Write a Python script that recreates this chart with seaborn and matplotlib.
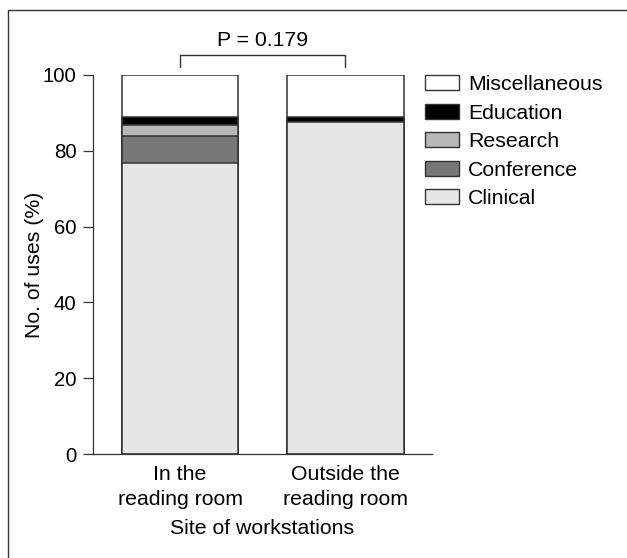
import matplotlib
matplotlib.use("Agg")
import matplotlib.pyplot as plt
import seaborn as sns
import pandas as pd
import numpy as np
from matplotlib.patches import Patch
from matplotlib.lines import Line2D

categories = ["In the\nreading room", "Outside the\nreading room"]
clinical = [76.7, 87.6]
conference = [7.2, 0.0]
research = [2.8, 0.0]
education = [2.1, 1.2]
miscellaneous = [11.2, 11.2]
p_text = "P = 0.179"

series_names = ["Clinical", "Conference", "Research", "Education", "Miscellaneous"]
series_vals = [clinical, conference, research, education, miscellaneous]
colors = {"Clinical": "#e6e6e6", "Conference": "#777777", "Research": "#b8b8b8",
          "Education": "#000000", "Miscellaneous": "#ffffff"}

sns.set_theme(style="ticks")
plt.rcParams['font.family'] = ['Liberation Sans', 'DejaVu Sans']
plt.rcParams['text.color'] = 'black'
plt.rcParams['axes.labelcolor'] = 'black'
plt.rcParams['xtick.color'] = 'black'
plt.rcParams['ytick.color'] = 'black'

FS = 15.3
fig = plt.figure(figsize=(6.27, 5.58), dpi=100)
ax = fig.add_axes([93/627, 1-454/558, (432-93)/627, (454-75)/558])

cum = np.cumsum(np.array(series_vals), axis=0)
edge = "#333333"
for i in range(len(series_names) - 1, -1, -1):
    df = pd.DataFrame({"site": categories, "value": cum[i]})
    sns.barplot(data=df, x="site", y="value", color=colors[series_names[i]],
                width=0.705, edgecolor=edge, linewidth=1.1, saturation=1, ax=ax)

ax.set_ylim(0, 100)
ax.set_xlim(-0.527, 1.525)
ax.set_yticks([0, 20, 40, 60, 80, 100])
ax.tick_params(axis="y", length=7, width=0.9, color="#333333", labelsize=14.7, pad=5)
ax.tick_params(axis="x", length=0, labelsize=FS, pad=8)
for s in ["top", "right"]:
    ax.spines[s].set_visible(False)
for s in ["left", "bottom"]:
    ax.spines[s].set_color("#333333")
    ax.spines[s].set_linewidth(0.9)
ax.set_ylabel("No. of uses (%)", fontsize=FS, labelpad=-1)
ax.set_xlabel("Site of workstations", fontsize=FS, labelpad=7)
for t in ax.get_xticklabels():
    t.set_linespacing(1.38)

# significance bracket
ax.plot([0, 0, 1, 1], [102.0, 105.3, 105.3, 102.0], color="#333333", lw=1,
        clip_on=False)
ax.text(0.5, 109.0, p_text, ha="center", va="center", fontsize=FS)

# legend
handles = [Patch(facecolor=colors[n], edgecolor=edge, linewidth=1) for n in series_names[::-1]]
leg = fig.legend(handles, series_names[::-1], loc="upper left",
                 bbox_to_anchor=(425/627, 1-75/558), frameon=False, fontsize=FS,
                 handlelength=1.6, handleheight=0.7, handletextpad=0.42,
                 labelspacing=0.45, borderaxespad=0, borderpad=0)

# outer frame (left and top edges)
fig.add_artist(Line2D([8/627, 8/627], [0, 1-10/558], transform=fig.transFigure,
                      color="#333333", lw=1))
fig.add_artist(Line2D([8/627, 1], [1-10/558, 1-10/558], transform=fig.transFigure,
                      color="#333333", lw=1))

fig.savefig("out.png", dpi=100)
